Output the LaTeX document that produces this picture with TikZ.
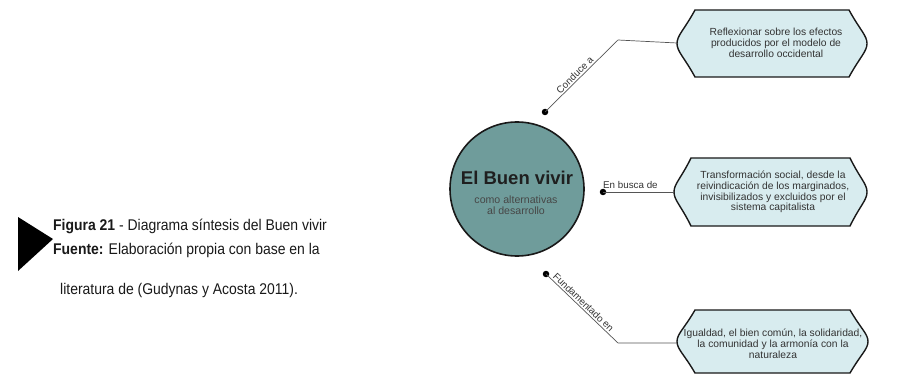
\documentclass[tikz,border=0pt]{standalone}
\usepackage{fontspec}
\setmainfont{Liberation Sans}
\newfontfamily\capfont[FakeStretch=0.9]{Liberation Sans}
\definecolor{circfill}{HTML}{6F9C9B}
\definecolor{boxfill}{HTML}{D8ECEF}
\definecolor{linegray}{HTML}{555555}
\definecolor{txtgray}{HTML}{333333}
\begin{document}
\begin{tikzpicture}[x=1pt,y=-1pt,
  boxline/.style={draw=black!90,line width=1.4pt,fill=boxfill},
  boxtext/.style={align=center,font=\fontsize{10.3}{10.8}\selectfont,text=txtgray,inner sep=0pt},
  conn/.style={draw=linegray,line width=0.7pt},
  dotmark/.style={circle,fill=black,inner sep=0pt,minimum size=6.5pt},
  clabel/.style={font=\fontsize{9.8}{11}\selectfont,text=txtgray,inner sep=1.5pt},
  captxt/.style={font=\capfont\fontsize{15.5}{16}\selectfont,anchor=west,inner sep=0pt,text=black!90}]
\useasboundingbox (0,0) rectangle (923,374);
\newcommand\hexshape[5]{% left right top bottom inset
  \path[boxline] ({#1+#5},#3) -- ({#2-#5},#3)
    .. controls ({#2-7},{#3+0.3*(#4-#3)}) and (#2,{#3+0.38*(#4-#3)}) .. (#2,{(#3+#4)/2})
    .. controls (#2,{#4-0.38*(#4-#3)}) and ({#2-7},{#4-0.3*(#4-#3)}) .. ({#2-#5},#4)
    -- ({#1+#5},#4)
    .. controls ({#1+7},{#4-0.3*(#4-#3)}) and (#1,{#4-0.38*(#4-#3)}) .. (#1,{(#3+#4)/2})
    .. controls (#1,{#3+0.38*(#4-#3)}) and ({#1+7},{#3+0.3*(#4-#3)}) .. ({#1+#5},#3) -- cycle;}

% central circle
\node[circle,draw=black!90,line width=1.6pt,fill=circfill,minimum size=134pt,inner sep=0pt] (c) at (517,189) {};
\node[font=\bfseries\fontsize{18.5}{20}\selectfont,text=black!88,inner sep=0pt] (title) at (517,178) {El Buen vivir};
\node[font=\fontsize{10.6}{11}\selectfont,text=black!72,align=center,inner sep=0pt] (sub) at (516,205.5) {como alternativas\\al desarrollo};

% boxes
\hexshape{677}{867}{10}{77}{18}
\node[boxtext] (b1) at (776,43) {Reflexionar sobre los efectos\\producidos por el modelo de\\desarrollo occidental};
\coordinate (b1w) at (677,43);

\hexshape{674}{867}{158}{226}{17}
\node[boxtext] (b2) at (773,192) {Transformación social, desde la\\reivindicación de los marginados,\\invisibilizados y excluidos por el\\sistema capitalista};
\coordinate (b2w) at (674,192);

\hexshape{677}{868}{310}{373}{18}
\node[boxtext] (b3) at (773,344) {Igualdad, el bien común, la solidaridad,\\la comunidad y la armonía con la\\naturaleza};
\coordinate (b3w) at (677,343);

% connectors
\node[dotmark] (d1) at (545,112) {};
\coordinate (k1) at (618,40);
\draw[conn] (d1.center) -- node[clabel,sloped,above,pos=0.46] {Conduce a} (k1) -- (b1w);

\node[dotmark] (d2) at (603,192) {};
\draw[conn] (d2.center) -- (b2w);
\node[clabel,anchor=south west,inner sep=0pt] (l2) at (603,188.5) {En busca de};

\node[dotmark] (d3) at (546,274) {};
\coordinate (k3) at (618,343);
\draw[conn] (d3.center) -- node[clabel,sloped,above,pos=0.47] {Fundamentado en} (k3) -- (b3w);

% caption
\fill[black] (18,217) -- (53,239) -- (18,271) -- cycle;
\node[captxt] (cap1) at (53,226) {\textbf{Figura 21} - Diagrama síntesis del Buen vivir};
\node[captxt] (cap2) at (53,250) {\textbf{Fuente:} Elaboración propia con base en la};
\node[captxt] (cap3) at (60,290) {literatura de (Gudynas y Acosta 2011).};
\end{tikzpicture}
\end{document}
